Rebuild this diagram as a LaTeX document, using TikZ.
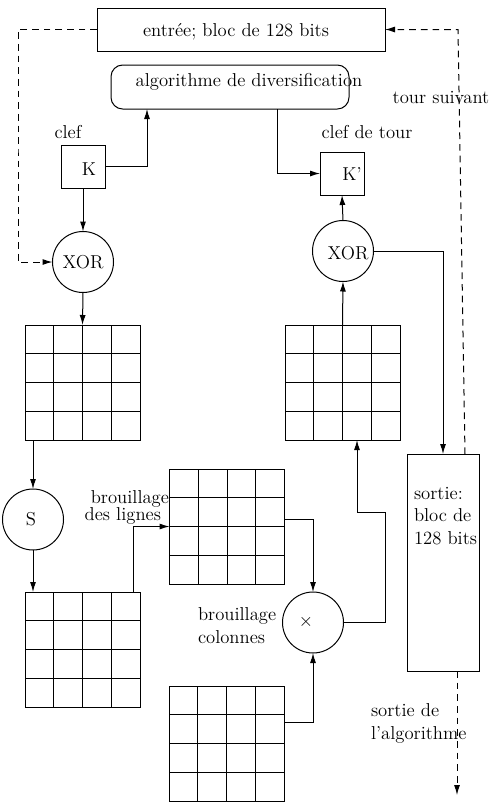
\documentclass[tikz,border=0pt]{standalone}
\usetikzlibrary{arrows.meta,calc}
\begin{document}
\begin{tikzpicture}[x=0.6pt,y=-0.6pt, line width=0.6pt,
  font=\fontsize{11.2pt}{13.5pt}\selectfont,
  arr/.style={-{Latex[length=6pt,width=3.6pt]}},
  dsh/.style={dashed, dash pattern=on 4pt off 3pt},
  box/.style={draw, inner sep=0pt, outer sep=0pt},
  circ/.style={draw, circle, minimum size=36.6pt, inner sep=0pt, outer sep=0pt},
  mat/.style={draw, minimum width=69pt, minimum height=69pt, inner sep=0pt, outer sep=0pt},
  txt/.style={inner sep=0pt, outer sep=0pt}]
\useasboundingbox (0,0) rectangle (497,802);

% boxes
\node[box, minimum width=172.8pt, minimum height=25.8pt] (top) at (241,29.5) {};
\node[txt] (topt) at (236,32) {entrée; bloc de 128 bits};
\node[box, rounded corners=7pt, minimum width=142.8pt, minimum height=26.4pt] (alg) at (230,87) {};
\node[txt] (algt) at (249,82) {algorithme de diversification};
\node[box, minimum width=26.4pt, minimum height=25.8pt] (K) at (83,166.5) {};
\node[txt] (Kt) at (89,169) {K};
\node[box, minimum width=26.4pt, minimum height=25.8pt] (Kp) at (342,173.5) {};
\node[txt] (Kpt) at (352,174) {K'};
\node[box, minimum width=43.2pt, minimum height=130.2pt] (sortie) at (443,562.5) {};
\node[txt, align=left, anchor=west] (sortiet) at (414,516) {sortie:\\ bloc de\\ 128 bits};

% circles
\node[circ] (xorL) at (83,262) {};
\node[txt] (xorLt) at (83,262) {XOR};
\node[circ] (xorR) at (343,251) {};
\node[txt] (xorRt) at (348,253) {XOR};
\node[circ] (S) at (33,519.5) {};
\node[txt] (St) at (31,519) {S};
\node[circ] (mul) at (313,622.5) {};
\node[txt] (mult) at (306,622) {$\times$};

% matrices
\node[mat] (m1) at (82.5,382.5) {};
\node[mat] (m2) at (82.5,649.5) {};
\node[mat] (m3) at (227,526.5) {};
\node[mat] (m4) at (342.5,382.5) {};
\node[mat] (m5) at (226.5,743.5) {};
\foreach \m in {m1,m2,m3,m4,m5}{
  \foreach \i in {1,2,3}{
    \draw ($(\m.north west)!\i/4!(\m.north east)$) -- ($(\m.south west)!\i/4!(\m.south east)$);
    \draw ($(\m.north west)!\i/4!(\m.south west)$) -- ($(\m.north east)!\i/4!(\m.south east)$);
  }
}

% labels
\node[txt] (clef) at (68,132) {clef};
\node[txt] (cleft) at (367,132) {clef de tour};
\node[txt] (tour) at (441,97) {tour suivant};
\node[txt, anchor=east] (br1) at (169,499) {brouillage};
\node[txt, anchor=east] (br2) at (161,516) {des lignes};
\node[txt, align=left, anchor=west] (brc) at (198,625.5) {brouillage\\ colonnes};
\node[txt, align=left, anchor=west] (sa) at (371,723.5) {sortie de\\ l'algorithme};

% coordinates
\coordinate (c1) at (147,109);
\coordinate (c2) at (277,109);
\coordinate (c3) at (18,150);
\coordinate (c4) at (465,454);
\coordinate (c5) at (458,29.5);
\coordinate (c7) at (133,592);
\coordinate (c8) at (285,519);
\coordinate (c9) at (385,512);
\coordinate (c10) at (357,440);
\coordinate (c11) at (284,722);
\coordinate (c12) at (457,671);
\coordinate (c13) at (457,795);

% connectors
\draw[arr] (K.east) -| (c1);
\draw[arr] (c2) |- (Kp.west);
\draw[arr] (K.south) -- (xorL.north);
\draw[arr, dsh] (top.west) -| (c3) |- (xorL.west);
\draw[arr, dsh] (c4) -- (c5) -- (top.east);
\draw[arr] (xorR.east) -| (sortie.north);
\draw[arr] (xorR.north) -- (Kp.south);
\draw[arr] (m4.north) -- (xorR.south);
\draw[arr] (xorL.south) -- (m1.north);
\draw[arr] (m1.south -| S.north) -- (S.north);
\draw[arr] (S.south) -- (S.south |- m2.north);
\draw[arr] (c7) |- (m3.west);
\draw[arr] (c8) -| (mul.north);
\draw[arr] (mul.east) -| (c9) -| (c10);
\draw[arr] (c11) -| (mul.south);
\draw[arr, dsh] (c12) -- (c13);
\end{tikzpicture}
\end{document}
